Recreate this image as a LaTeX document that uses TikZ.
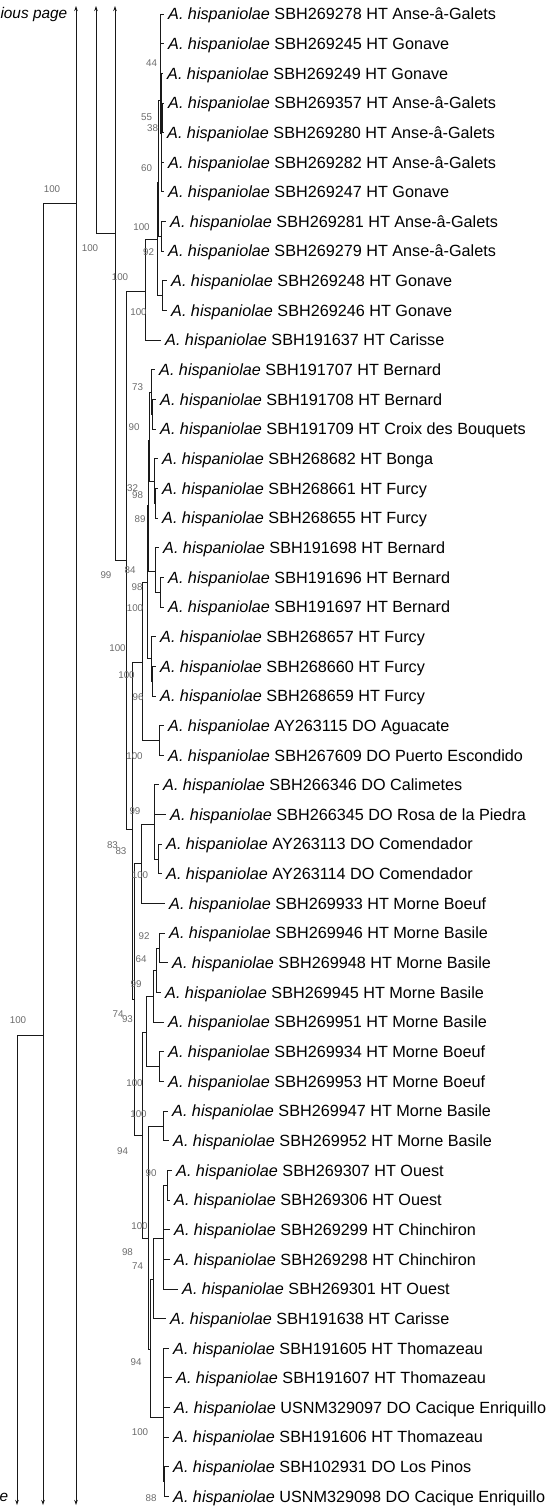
\documentclass[tikz,border=0pt]{standalone}
\usepackage{fontspec}
\setmainfont{Liberation Sans}
\usetikzlibrary{arrows.meta}
\begin{document}
\begin{tikzpicture}[x=1pt,y=-1pt,
  br/.style={line width=0.85pt, draw=black!90},
  tip/.style={anchor=west, inner xsep=4pt, inner ysep=0pt, text height=14.5pt, text depth=3pt, font=\fontsize{16.2}{19}\selectfont},
  sup/.style={inner sep=0pt, font=\fontsize{9.8}{11}\selectfont, text=black!58},
  side/.style={anchor=east, inner sep=0pt, font=\fontsize{15.4}{18}\selectfont\itshape},
  arr/.style={br, -{Stealth[length=5pt,width=3.5pt]}}]
\useasboundingbox (0,0) rectangle (550,1507);
\newcommand{\Ah}{\textit{A. hispaniolae}}
% tips
\node[tip] (t1) at (164,14) {\Ah{} SBH269278 HT Anse-â-Galets};
\node[tip] (t2) at (164,43.65) {\Ah{} SBH269245 HT Gonave};
\node[tip] (t3) at (163,73.3) {\Ah{} SBH269249 HT Gonave};
\node[tip] (t4) at (164,102.95) {\Ah{} SBH269357 HT Anse-â-Galets};
\node[tip] (t5) at (163,132.6) {\Ah{} SBH269280 HT Anse-â-Galets};
\node[tip] (t6) at (164,162.25) {\Ah{} SBH269282 HT Anse-â-Galets};
\node[tip] (t7) at (164,191.9) {\Ah{} SBH269247 HT Gonave};
\node[tip] (t8) at (166,221.55) {\Ah{} SBH269281 HT Anse-â-Galets};
\node[tip] (t9) at (164,251.2) {\Ah{} SBH269279 HT Anse-â-Galets};
\node[tip] (t10) at (167,280.85) {\Ah{} SBH269248 HT Gonave};
\node[tip] (t11) at (167,310.5) {\Ah{} SBH269246 HT Gonave};
\node[tip] (t12) at (161,340.15) {\Ah{} SBH191637 HT Carisse};
\node[tip] (t13) at (155,369.8) {\Ah{} SBH191707 HT Bernard};
\node[tip] (t14) at (156,399.45) {\Ah{} SBH191708 HT Bernard};
\node[tip] (t15) at (156,429.1) {\Ah{} SBH191709 HT Croix des Bouquets};
\node[tip] (t16) at (158,458.75) {\Ah{} SBH268682 HT Bonga};
\node[tip] (t17) at (158,488.4) {\Ah{} SBH268661 HT Furcy};
\node[tip] (t18) at (158,518.05) {\Ah{} SBH268655 HT Furcy};
\node[tip] (t19) at (159,547.7) {\Ah{} SBH191698 HT Bernard};
\node[tip] (t20) at (164,577.35) {\Ah{} SBH191696 HT Bernard};
\node[tip] (t21) at (164,607) {\Ah{} SBH191697 HT Bernard};
\node[tip] (t22) at (156,636.65) {\Ah{} SBH268657 HT Furcy};
\node[tip] (t23) at (156,666.3) {\Ah{} SBH268660 HT Furcy};
\node[tip] (t24) at (156,695.95) {\Ah{} SBH268659 HT Furcy};
\node[tip] (t25) at (164,725.6) {\Ah{} AY263115 DO Aguacate};
\node[tip] (t26) at (164,755.25) {\Ah{} SBH267609 DO Puerto Escondido};
\node[tip] (t27) at (159,784.9) {\Ah{} SBH266346 DO Calimetes};
\node[tip] (t28) at (166,814.55) {\Ah{} SBH266345 DO Rosa de la Piedra};
\node[tip] (t29) at (162,844.2) {\Ah{} AY263113 DO Comendador};
\node[tip] (t30) at (162,873.85) {\Ah{} AY263114 DO Comendador};
\node[tip] (t31) at (165,903.5) {\Ah{} SBH269933 HT Morne Boeuf};
\node[tip] (t32) at (165,933.15) {\Ah{} SBH269946 HT Morne Basile};
\node[tip] (t33) at (168,962.8) {\Ah{} SBH269948 HT Morne Basile};
\node[tip] (t34) at (161,992.45) {\Ah{} SBH269945 HT Morne Basile};
\node[tip] (t35) at (164,1022.1) {\Ah{} SBH269951 HT Morne Basile};
\node[tip] (t36) at (164,1051.75) {\Ah{} SBH269934 HT Morne Boeuf};
\node[tip] (t37) at (164,1081.4) {\Ah{} SBH269953 HT Morne Boeuf};
\node[tip] (t38) at (168,1111.05) {\Ah{} SBH269947 HT Morne Basile};
\node[tip] (t39) at (169,1140.7) {\Ah{} SBH269952 HT Morne Basile};
\node[tip] (t40) at (172,1170.35) {\Ah{} SBH269307 HT Ouest};
\node[tip] (t41) at (170,1200) {\Ah{} SBH269306 HT Ouest};
\node[tip] (t42) at (170,1229.65) {\Ah{} SBH269299 HT Chinchiron};
\node[tip] (t43) at (170,1259.3) {\Ah{} SBH269298 HT Chinchiron};
\node[tip] (t44) at (178,1288.95) {\Ah{} SBH269301 HT Ouest};
\node[tip] (t45) at (166,1318.6) {\Ah{} SBH191638 HT Carisse};
\node[tip] (t46) at (169,1348.25) {\Ah{} SBH191605 HT Thomazeau};
\node[tip] (t47) at (172,1377.9) {\Ah{} SBH191607 HT Thomazeau};
\node[tip] (t48) at (170,1407.55) {\Ah{} USNM329097 DO Cacique Enriquillo};
\node[tip] (t49) at (169,1437.2) {\Ah{} SBH191606 HT Thomazeau};
\node[tip] (t50) at (169,1466.85) {\Ah{} SBH102931 DO Los Pinos};
\node[tip] (t51) at (169,1496.5) {\Ah{} USNM329098 DO Cacique Enriquillo};
% internal nodes
\coordinate (TOP) at (145,291);
\coordinate (CL111) at (157,239);
\coordinate (C1011) at (162,295.7);
\coordinate (C19) at (158.5,182);
\coordinate (A17) at (160,100);
\coordinate (A37) at (161,133);
\coordinate (A45) at (162.5,117.8);
\coordinate (A89) at (161.5,236.4);
\coordinate (C126) at (126,560);
\coordinate (D) at (132,829);
\coordinate (M) at (142,662);
\coordinate (S) at (159,740.4);
\coordinate (R) at (147,582);
\coordinate (U) at (151,658);
\coordinate (V) at (152.5,681.1);
\coordinate (T) at (148.5,505);
\coordinate (T1) at (149.5,440);
\coordinate (G13) at (151,392);
\coordinate (G1415) at (152,414.3);
\coordinate (G16) at (154,481);
\coordinate (G1718) at (155,503.2);
\coordinate (T2) at (155,571);
\coordinate (T3) at (160,592.2);
\coordinate (E) at (134,999);
\coordinate (F) at (141,863);
\coordinate (G) at (154,824);
\coordinate (H) at (158,859);
\coordinate (L) at (142,1135);
\coordinate (K) at (146,1032);
\coordinate (J36) at (159,1066.6);
\coordinate (I) at (153,996);
\coordinate (J) at (156.5,970);
\coordinate (J32) at (159,948);
\coordinate (M2) at (148,1238);
\coordinate (N38) at (163,1126);
\coordinate (N) at (150,1349);
\coordinate (O) at (153,1279);
\coordinate (Q) at (163,1238);
\coordinate (Q41) at (167,1185.2);
\coordinate (P) at (163,1417);
\coordinate (P2) at (164.5,1481.7);
% left backbone
\coordinate (n96) at (96,233);
\coordinate (n115) at (115,233);
\coordinate (topA) at (76,6);
\coordinate (topB) at (96,6);
\coordinate (topC) at (115,6);
\coordinate (n43) at (43,203);
\coordinate (n76) at (76,203);
\coordinate (n43b) at (43,1035);
\coordinate (n17) at (17,1035);
\coordinate (botA) at (17,1505);
\coordinate (botB) at (43,1505);
\coordinate (botC) at (76,1505);
\draw[arr] (n96) -- (topB);
\draw[br] (n96) -- (n115);
\draw[arr] (n115) -- (topC);
\draw[br] (n115) |- (C126);
\draw[br] (n43) -- (n76);
\draw[arr] (n76) -- (topA);
\draw[arr] (n76) -- (botC);
\draw[arr] (n43) -- (botB);
\draw[br] (n43b) -- (n17);
\draw[arr] (n17) -- (botA);
% tree edges
\foreach \p/\c in {C126/TOP, C126/D, TOP/CL111, TOP/t12, CL111/C19, CL111/C1011,
  C1011/t10, C1011/t11, C19/A17, C19/A89, A17/t1, A17/t2, A17/A37,
  A37/t3, A37/A45, A37/t6, A37/t7, A45/t4, A45/t5, A89/t8, A89/t9,
  D/M, D/E, M/R, M/S, S/t25, S/t26, R/T, R/U, U/t22, U/V, V/t23, V/t24,
  T/T1, T/T2, T1/G13, T1/G16, G13/t13, G13/G1415, G1415/t14, G1415/t15,
  G16/t16, G16/G1718, G1718/t17, G1718/t18, T2/t19, T2/T3, T3/t20, T3/t21,
  E/F, E/L, F/G, F/t31, G/t27, G/t28, G/H, H/t29, H/t30,
  L/K, L/M2, K/I, K/J36, J36/t36, J36/t37, I/J, I/t35, J/J32, J/t34, J32/t32, J32/t33,
  M2/N38, M2/N, N38/t38, N38/t39, N/O, N/P, O/Q, O/t45,
  Q/Q41, Q/t42, Q/t43, Q/t44, Q41/t40, Q41/t41,
  P/t46, P/t47, P/t48, P/t49, P/P2, P2/t50, P2/t51}
  \draw[br] (\p) |- (\c);
% side texts
\node[side] (prevtxt) at (67.5,15) {ious page};
\node[side] (nexttxt) at (8.5,1497) {e};
% support values
\node[sup] (l1) at (52,189) {100};
\node[sup] (l2) at (90,248) {100};
\node[sup] (l3) at (18,1020) {100};
\node[sup] (s1) at (151.5,63) {44};
\node[sup] (s2) at (146.5,117) {55};
\node[sup] (s3) at (152.5,128) {38};
\node[sup] (s4) at (146.5,168) {60};
\node[sup] (s5) at (141.5,227) {100};
\node[sup] (s6) at (148.5,252) {92};
\node[sup] (s7) at (120,277) {100};
\node[sup] (s8) at (138.5,312) {100};
\node[sup] (s9) at (137.5,387) {73};
\node[sup] (s10) at (134,427) {90};
\node[sup] (s11) at (132.5,488.5) {32};
\node[sup] (s12) at (137.5,495) {98};
\node[sup] (s13) at (140,519) {89};
\node[sup] (s14) at (106,575) {99};
\node[sup] (s15) at (130,570) {84};
\node[sup] (s16) at (137,587) {98};
\node[sup] (s17) at (135,608) {100};
\node[sup] (s18) at (117.5,648) {100};
\node[sup] (s19) at (126.5,675) {100};
\node[sup] (s20) at (138,697) {96};
\node[sup] (s21) at (134.5,756) {100};
\node[sup] (s22) at (135,811) {99};
\node[sup] (s23) at (112.5,845) {83};
\node[sup] (s24) at (121,851) {83};
\node[sup] (s25) at (140,875) {100};
\node[sup] (s26) at (144,936) {92};
\node[sup] (s27) at (141,959) {64};
\node[sup] (s28) at (136,984) {99};
\node[sup] (s29) at (118,1014) {74};
\node[sup] (s30) at (127.5,1019) {93};
\node[sup] (s31) at (134.5,1083) {100};
\node[sup] (s32) at (138.5,1114) {100};
\node[sup] (s33) at (122.5,1151) {94};
\node[sup] (s34) at (151,1173) {90};
\node[sup] (s35) at (139.5,1226) {100};
\node[sup] (s36) at (127.5,1252) {98};
\node[sup] (s37) at (137.5,1266) {74};
\node[sup] (s38) at (136,1362) {94};
\node[sup] (s39) at (140,1432) {100};
\node[sup] (s40) at (151,1498) {88};
\end{tikzpicture}
\end{document}
